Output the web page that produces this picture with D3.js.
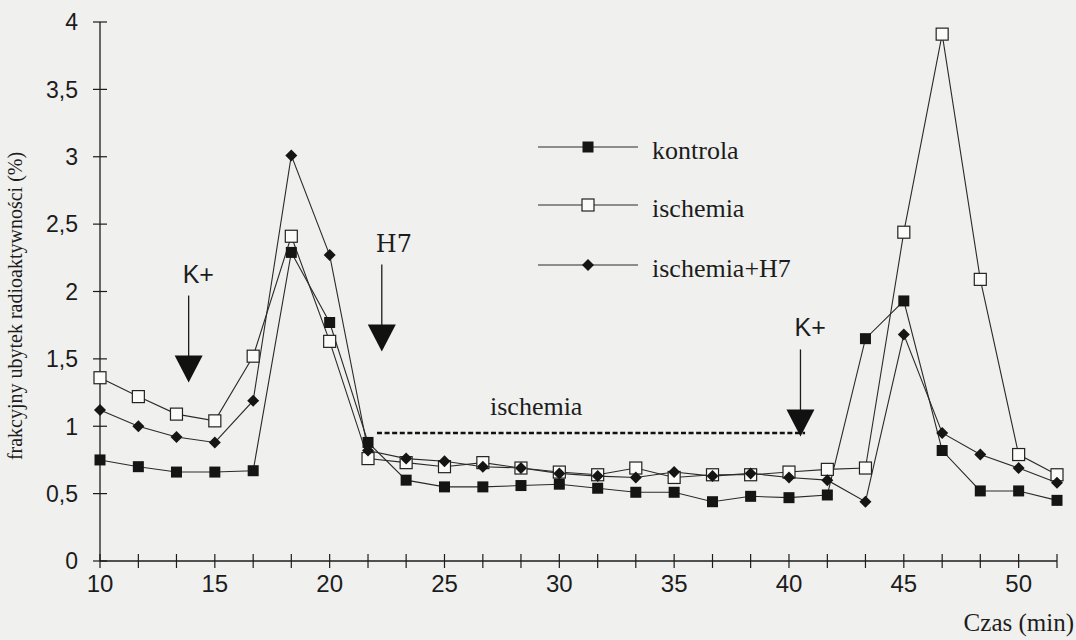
<!DOCTYPE html>
<html>
<head>
<meta charset="utf-8">
<script src="https://cdn.jsdelivr.net/npm/d3@7"></script>
<style>
  html, body { margin: 0; padding: 0; background: #f0f0ee; }
  svg { display: block; }
</style>
</head>
<body>
<svg id="chart" width="1076" height="640"></svg>
<script>
// czas (min) - punkty pomiarowe
var times = [10, 11.67, 13.33, 15, 16.67, 18.33, 20, 21.67, 23.33, 25, 26.67, 28.33, 30,
             31.67, 33.33, 35, 36.67, 38.33, 40, 41.67, 43.33, 45, 46.67, 48.33, 50, 51.67];

var kontrola = [0.75, 0.70, 0.66, 0.66, 0.67, 2.29, 1.77, 0.88, 0.60, 0.55, 0.55, 0.56, 0.57,
                0.54, 0.51, 0.51, 0.44, 0.48, 0.47, 0.49, 1.65, 1.93, 0.82, 0.52, 0.52, 0.45];
var ischemia = [1.36, 1.22, 1.09, 1.04, 1.52, 2.41, 1.63, 0.76, 0.73, 0.70, 0.73, 0.69, 0.66,
                0.64, 0.69, 0.62, 0.64, 0.64, 0.66, 0.68, 0.69, 2.44, 3.91, 2.09, 0.79, 0.64];
var ischemiaH7 = [1.12, 1.00, 0.92, 0.88, 1.19, 3.01, 2.27, 0.82, 0.76, 0.74, 0.70, 0.69, 0.65,
                  0.63, 0.62, 0.66, 0.63, 0.65, 0.62, 0.60, 0.44, 1.68, 0.95, 0.79, 0.69, 0.58];

var seriesNames = ["kontrola", "ischemia", "ischemia+H7"];
var xTickLabels = [10, 15, 20, 25, 30, 35, 40, 45, 50];
var yTickValues = [0, 0.5, 1, 1.5, 2, 2.5, 3, 3.5, 4];

// strzalki (czas, wartosc gory linii, etykieta)
var arrows = [
  {x: 13.86, top: 1.97, label: "K+"},
  {x: 22.27, top: 2.20, label: "H7"},
  {x: 40.50, top: 1.57, label: "K+"}
];
var ischemiaPeriod = {from: 22.06, to: 40.70, level: 0.95, label: "ischemia"};

var svg = d3.select("svg#chart");
var plotLeft = 100, plotRight = 1057, plotTop = 22, plotBottom = 561;

var x = d3.scaleLinear().domain([10, 51.67]).range([plotLeft, plotRight]);
var y = d3.scaleLinear().domain([0, 4]).range([plotBottom, plotTop]);

var ink = "#1c1c1c";
var fmt = function(d) { return String(d).replace(".", ","); };

// osie
svg.append("line").attr("x1", plotLeft).attr("x2", plotLeft).attr("y1", plotTop).attr("y2", plotBottom)
   .attr("stroke", ink).attr("stroke-width", 1.3);
svg.append("line").attr("x1", plotLeft).attr("x2", plotRight).attr("y1", plotBottom).attr("y2", plotBottom)
   .attr("stroke", ink).attr("stroke-width", 1.3);

svg.append("g").selectAll("line").data(yTickValues).enter().append("line")
   .attr("x1", plotLeft - 7).attr("x2", plotLeft + 7)
   .attr("y1", function(d) { return y(d); }).attr("y2", function(d) { return y(d); })
   .attr("stroke", ink).attr("stroke-width", 1.2);

svg.append("g").selectAll("text").data(yTickValues).enter().append("text")
   .attr("x", plotLeft - 22).attr("y", function(d) { return y(d); })
   .attr("dy", "0.36em").attr("text-anchor", "end")
   .style("font-family", "'Liberation Sans', Arial, sans-serif").style("font-size", "23px")
   .attr("fill", ink).text(fmt);

svg.append("g").selectAll("line").data(times).enter().append("line")
   .attr("x1", function(d) { return x(d); }).attr("x2", function(d) { return x(d); })
   .attr("y1", plotBottom - 7).attr("y2", plotBottom + 7)
   .attr("stroke", ink).attr("stroke-width", 1.2);

svg.append("g").selectAll("text").data(xTickLabels).enter().append("text")
   .attr("x", function(d) { return x(d); }).attr("y", 592)
   .attr("text-anchor", "middle")
   .style("font-family", "'Liberation Sans Narrow', 'Liberation Sans', Arial, sans-serif")
   .style("font-size", "24px")
   .attr("fill", ink).text(function(d) { return d; });

svg.append("text").attr("x", 1074).attr("y", 631).attr("text-anchor", "end")
   .style("font-family", "'Liberation Serif', 'Times New Roman', serif").style("font-size", "25px")
   .attr("fill", ink).text("Czas (min)");

svg.append("text").attr("transform", "translate(22,306) rotate(-90)")
   .attr("text-anchor", "middle")
   .style("font-family", "'Liberation Serif', 'Times New Roman', serif").style("font-size", "20px")
   .attr("fill", ink).text("frakcyjny ubytek radioaktywności (%)");

// adnotacje
var ann = svg.append("g").attr("class", "annotations");
arrows.forEach(function(a) {
  var ax = x(a.x), ay = y(a.top);
  ann.append("line").attr("x1", ax).attr("x2", ax).attr("y1", ay).attr("y2", ay + 62)
     .attr("stroke", ink).attr("stroke-width", 1.3);
  ann.append("path")
     .attr("d", "M" + (ax - 14) + "," + (ay + 60) + "L" + (ax + 14) + "," + (ay + 60) + "L" + ax + "," + (ay + 87) + "Z")
     .attr("fill", "#111");
  ann.append("text").attr("x", ax - 6).attr("y", ay - 13)
     .style("font-family", a.label === "H7" ? "'DejaVu Serif', 'Courier New', serif" : "'Liberation Sans', Arial, sans-serif")
     .style("font-size", a.label === "H7" ? "24px" : "25px")
     .attr("fill", ink).text(a.label);
});

ann.append("line")
   .attr("x1", x(ischemiaPeriod.from)).attr("x2", x(ischemiaPeriod.to))
   .attr("y1", y(ischemiaPeriod.level)).attr("y2", y(ischemiaPeriod.level))
   .attr("stroke", "#111").attr("stroke-width", 2.6).attr("stroke-dasharray", "5,2.6");
ann.append("text").attr("x", 490).attr("y", 415)
   .style("font-family", "'Liberation Serif', 'Times New Roman', serif").style("font-size", "26px")
   .attr("fill", ink).text(ischemiaPeriod.label);

// serie
var allSeries = [kontrola, ischemia, ischemiaH7];
var line = d3.line().x(function(d, i) { return x(times[i]); }).y(function(d) { return y(d); });

function drawMarker(g, kind, cx, cy) {
  if (kind === 0) {
    g.append("rect").attr("x", cx - 5.5).attr("y", cy - 5.5).attr("width", 11).attr("height", 11)
     .attr("fill", "#151515");
  } else if (kind === 1) {
    g.append("rect").attr("x", cx - 6).attr("y", cy - 6).attr("width", 12).attr("height", 12)
     .attr("fill", "#fbfbfa").attr("stroke", "#222").attr("stroke-width", 1.2);
  } else {
    g.append("path").attr("d", "M" + cx + "," + (cy - 6) + "L" + (cx + 6) + "," + cy + "L" + cx + "," + (cy + 6) + "L" + (cx - 6) + "," + cy + "Z")
     .attr("fill", "#151515");
  }
}

var linesG = svg.append("g");
allSeries.forEach(function(s) {
  linesG.append("path").datum(s).attr("d", line)
        .attr("fill", "none").attr("stroke", "#2a2a2a").attr("stroke-width", 1.1);
});
var markersG = svg.append("g");
allSeries.forEach(function(s, k) {
  s.forEach(function(v, i) { drawMarker(markersG, k, x(times[i]), y(v)); });
});

// legenda
var legendY = [147, 205, 265];
var legend = svg.append("g");
seriesNames.forEach(function(name, k) {
  legend.append("line").attr("x1", 538).attr("x2", 638).attr("y1", legendY[k]).attr("y2", legendY[k])
        .attr("stroke", "#2a2a2a").attr("stroke-width", 1.1);
  drawMarker(legend, k, 588, legendY[k]);
  legend.append("text").attr("x", 652).attr("y", legendY[k] + 12)
        .style("font-family", "'Liberation Serif', 'Times New Roman', serif").style("font-size", "26px")
        .attr("fill", ink).text(name);
});
</script>
</body>
</html>
